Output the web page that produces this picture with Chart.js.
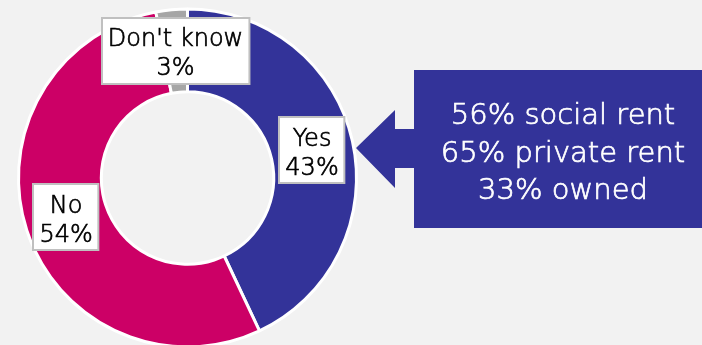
<!DOCTYPE html>
<html>
<head>
<meta charset="utf-8">
<script src="https://cdn.jsdelivr.net/npm/chart.js@4/dist/chart.umd.min.js"></script>
<style>
  html, body { margin: 0; padding: 0; background: #F2F2F2; overflow: hidden; }
  #wrap { width: 702px; height: 345px; overflow: hidden; }
  canvas { display: block; }
</style>
</head>
<body>
<div id="wrap"><canvas id="c" width="702" height="352"></canvas></div>
<script>
// Answers, clockwise from 12 o'clock
const categories = ['Yes', 'No', "Don't know"];
const shares = [43, 54, 3];
const sliceColours = ['#333399', '#CC0066', '#A6A6A6'];

// Breakdown of the "Yes" share by tenure
const calloutLines = ['56% social rent', '65% private rent', '33% owned'];

const FONT = '"DejaVu Sans", sans-serif';

// Light face with a hairline stroke to get a medium-thin text weight
function drawText(ctx, text, x, y, colour) {
  ctx.fillStyle = colour;
  ctx.strokeStyle = colour;
  ctx.lineWidth = 0.7;
  ctx.fillText(text, x, y);
  ctx.strokeText(text, x, y);
}

// White boxed "Category / NN%" labels at each slice's centroid
const sliceLabels = {
  id: 'sliceLabels',
  afterDatasetsDraw(chart) {
    const ctx = chart.ctx;
    const meta = chart.getDatasetMeta(0);
    ctx.save();
    ctx.font = '200 24px ' + FONT;
    meta.data.forEach((arc, i) => {
      const p = arc.tooltipPosition();
      const l1 = categories[i];
      const l2 = shares[i] + '%';
      const w = Math.max(ctx.measureText(l1).width, ctx.measureText(l2).width) + 12;
      const h = 66;
      const x = Math.round(p.x - w / 2);
      const y = Math.round(p.y - h / 2);
      ctx.fillStyle = '#FFFFFF';
      ctx.fillRect(x, y, w, h);
      ctx.strokeStyle = '#C0C0C0';
      ctx.lineWidth = 2;
      ctx.strokeRect(x, y, w, h);
      ctx.textAlign = 'center';
      ctx.textBaseline = 'alphabetic';
      drawText(ctx, l1, p.x, p.y - 4.5, '#000000');
      drawText(ctx, l2, p.x, p.y + 24.5, '#000000');
    });
    ctx.restore();
  }
};

// Arrow-shaped callout pointing at the "Yes" slice
const callout = {
  id: 'callout',
  afterDraw(chart) {
    const ctx = chart.ctx;
    ctx.save();
    ctx.fillStyle = '#333399';
    ctx.beginPath();
    ctx.moveTo(414, 70);
    ctx.lineTo(702, 70);
    ctx.lineTo(702, 228);
    ctx.lineTo(414, 228);
    ctx.lineTo(414, 168);
    ctx.lineTo(395, 168);
    ctx.lineTo(395, 188);
    ctx.lineTo(356, 148);
    ctx.lineTo(395, 110);
    ctx.lineTo(395, 129);
    ctx.lineTo(414, 129);
    ctx.closePath();
    ctx.fill();
    ctx.font = '200 29px ' + FONT;
    ctx.textAlign = 'center';
    ctx.textBaseline = 'alphabetic';
    calloutLines.forEach((t, i) => drawText(ctx, t, 563, 124 + i * 37.5, '#FFFFFF'));
    ctx.restore();
  }
};

new Chart(document.getElementById('c'), {
  type: 'doughnut',
  data: {
    labels: categories,
    datasets: [{
      data: shares,
      backgroundColor: sliceColours,
      borderColor: '#FFFFFF',
      borderWidth: 3,
      hoverBorderWidth: 3,
      hoverOffset: 0
    }]
  },
  options: {
    responsive: false,
    animation: false,
    cutout: '51%',
    layout: { padding: { left: 17, right: 344, top: 7.5, bottom: 3.5 } },
    plugins: {
      legend: { display: false },
      tooltip: { enabled: false }
    }
  },
  plugins: [sliceLabels, callout]
});
</script>
</body>
</html>
